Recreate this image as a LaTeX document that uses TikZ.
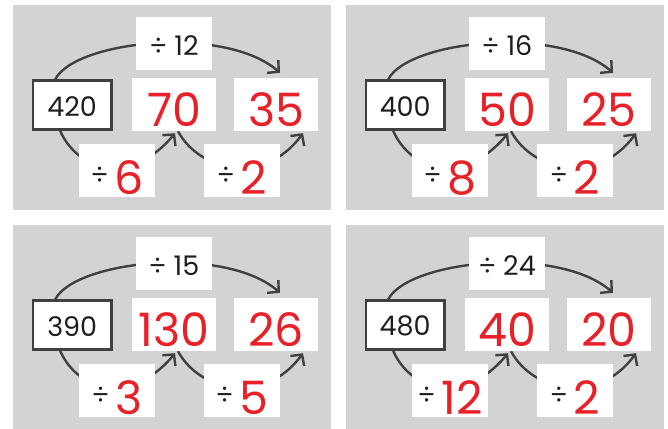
\documentclass[tikz,border=0pt]{standalone}
\usepackage{fontspec}
\setmainfont{Poppins}
\usetikzlibrary{arrows.meta}
\definecolor{panelgray}{HTML}{D3D3D3}
\definecolor{linegray}{HTML}{404040}
\definecolor{numred}{HTML}{E82129}
\definecolor{txtblack}{HTML}{1E1E1E}
\newcommand\blackfont{\fontsize{27}{27}\selectfont}
\newcommand\redfont{\fontsize{46}{46}\selectfont}
\pgfdeclarelayer{panelbg}
\pgfdeclarelayer{arcs}
\pgfsetlayers{panelbg,arcs,main}
\tikzset{
  panel/.style={fill=panelgray},
  startbox/.style={draw=linegray, line width=2.6pt, fill=white, minimum width=78.4pt, minimum height=49pt, inner sep=0pt},
  wbox/.style={fill=white, inner sep=0pt, minimum width=76pt, minimum height=53pt},
  numbox/.style={wbox, minimum width=84pt},
  txt/.style={inner sep=0pt, font=\blackfont, text=txtblack},
  redtxt/.style={inner sep=0pt, font=\redfont, text=numred},
  arc/.style={draw=linegray, line width=2.4pt, -{Straight Barb[length=8pt,width=17pt]}},
}
\newcommand\divpanel[9]{%
\begin{scope}[shift={(#1,#2)}]
  \begin{pgfonlayer}{panelbg}
    \fill[panel] (13,5) rectangle (331,210);
  \end{pgfonlayer}
  \node[startbox] (#3s) at (72.2,105.2) {};
  \node[txt] (#3st) at ([yshift=-1pt]#3s.center) {#4};
  \node[wbox] (#3top) at (174,43.5) {};
  \node[txt] (#3topt) at ([yshift=-2.5pt]#3top.center) {÷ #5};
  \node[numbox] (#3m) at (174,104.5) {};
  \node[redtxt] (#3mt) at ([yshift=-5.5pt]#3m.center) {#6};
  \node[numbox] (#3e) at (276,104.5) {};
  \node[redtxt] (#3et) at ([yshift=-5.5pt]#3e.center) {#7};
  \node[wbox] (#3d1) at (117,170.5) {};
  \node[redtxt, anchor=base] (#3d1t) at ([yshift=-23.5pt]#3d1.center) {\textcolor{txtblack}{\raisebox{9.5pt}{\blackfont ÷}}\hspace{6pt}#8};
  \node[wbox] (#3d2) at (242,170.5) {};
  \node[redtxt, anchor=base] (#3d2t) at ([yshift=-23.5pt]#3d2.center) {\textcolor{txtblack}{\raisebox{9.5pt}{\blackfont ÷}}\hspace{6pt}#9};
  \begin{pgfonlayer}{arcs}
    \draw[arc] ([xshift=-17pt]#3s.north) .. controls +(20,-39) and +(-55,-48) .. ([xshift=4pt,yshift=5pt]#3e.north);
    \draw[arc] ([xshift=-12pt]#3s.south) .. controls +(20,44) and +(-40,49) .. ([xshift=1pt,yshift=-2pt]#3m.south);
    \draw[arc] ([xshift=4pt]#3m.south) .. controls +(22,41) and +(-38,52) .. ([xshift=27pt,yshift=-2pt]#3e.south);
  \end{pgfonlayer}
\end{scope}}
\begin{document}
\begin{tikzpicture}[x=1pt,y=-1pt]
\useasboundingbox (0,0) rectangle (668,428);
\divpanel{0}{0}{a}{420}{12}{70}{35}{6}{2}
\divpanel{333}{0}{b}{400}{16}{50}{25}{8}{2}
\divpanel{0}{220}{c}{390}{15}{130}{26}{3}{5}
\divpanel{333}{220}{d}{480}{24}{40}{20}{12}{2}
\end{tikzpicture}
\end{document}
